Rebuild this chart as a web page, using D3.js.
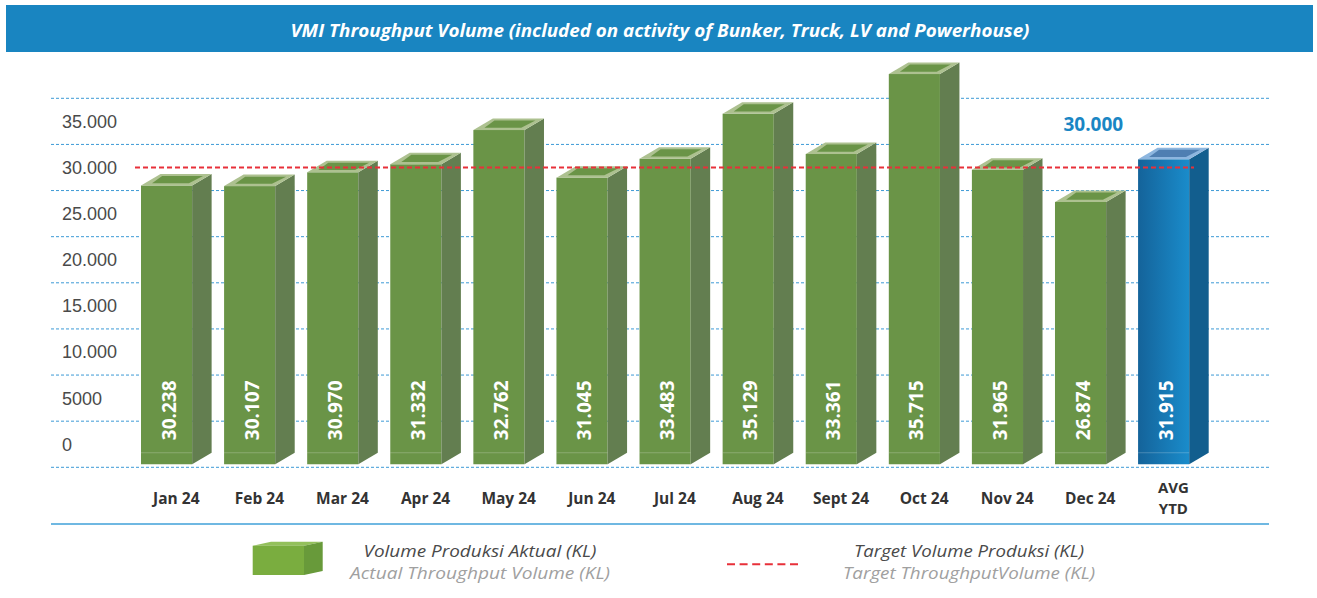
<!DOCTYPE html>
<html>
<head>
<meta charset="utf-8">
<script src="https://cdn.jsdelivr.net/npm/d3@7"></script>
<style>
  body { margin: 0; background: #fff; }
  svg { display: block; }
</style>
</head>
<body>
<svg id="chart" width="1317" height="598"></svg>
<script>
// data
const categories = ['Jan 24', 'Feb 24', 'Mar 24', 'Apr 24', 'May 24', 'Jun 24', 'Jul 24',
  'Aug 24', 'Sept 24', 'Oct 24', 'Nov 24', 'Dec 24', 'AVG\nYTD'];
// printed value on each bar (KL)
const reported = [30238, 30107, 30970, 31332, 32762, 31045, 33483, 35129, 33361, 35715, 31965, 26874, 31915];
// height the bar is actually drawn to, read against the axis
const plotted = [28050, 27980, 29480, 30350, 34060, 28900, 30950, 35830, 31460, 40130, 29760, 26260, 30890];
const target = 30000;
const tickValues = [0, 5000, 10000, 15000, 20000, 25000, 30000, 35000];
const tickLabels = ['0', '5000', '10.000', '15.000', '20.000', '25.000', '30.000', '35.000'];
const gridValues = [-2500, 2500, 7500, 12500, 17500, 22500, 27500, 32500, 37500];
const baseValue = -2170;

const title = 'VMI Throughput Volume (included on activity of Bunker, Truck, LV and Powerhouse)';
const legendBar = ['Volume Produksi Aktual (KL)', 'Actual Throughput Volume (KL)'];
const legendTarget = ['Target Volume Produksi (KL)', 'Target ThroughputVolume (KL)'];

const fmt = d3.formatLocale({decimal: ',', thousands: '.', grouping: [3], currency: ['', '']}).format(',');

const svg = d3.select('#chart');
const defs = svg.append('defs');
let grad = defs.append('linearGradient').attr('id', 'avgFront')
  .attr('x1', '0%').attr('x2', '100%').attr('y1', '0%').attr('y2', '0%');
grad.append('stop').attr('offset', '0%').attr('stop-color', '#14639a');
grad.append('stop').attr('offset', '100%').attr('stop-color', '#1a8ccb');

// title banner
svg.append('rect').attr('x', 6).attr('y', 5).attr('width', 1307).attr('height', 47).attr('fill', '#1985c1');
svg.append('text')
  .attr('x', 660).attr('y', 37)
  .attr('text-anchor', 'middle')
  .attr('fill', '#fff')
  .attr('textLength', 739).attr('lengthAdjust', 'spacingAndGlyphs')
  .style('font-family', '"Open Sans", sans-serif')
  .style('font-style', 'italic')
  .style('font-weight', 700)
  .style('font-size', '17px')
  .text(title);

const y = d3.scaleLinear().domain([-2500, 37500]).range([467.3, 98.3]);
const x = d3.scaleBand().domain(categories).range([141, 1208.7]).paddingInner(0.15).paddingOuter(0);
const dx = 19.5, dy = 11.5;
const frontW = x.bandwidth() - dx;

// dotted grid
svg.append('g').selectAll('line').data(gridValues).join('line')
  .attr('x1', 51).attr('x2', 1269)
  .attr('y1', d => y(d)).attr('y2', d => y(d))
  .attr('stroke', '#3d9ad6').attr('stroke-width', 1)
  .attr('stroke-dasharray', '3,2');

// y tick labels (sit between grid lines)
svg.append('g').selectAll('text').data(tickValues).join('text')
  .attr('x', 62).attr('y', d => y(d)).attr('dy', '0.36em')
  .attr('fill', '#4a4a4a')
  .style('font-family', '"Liberation Sans", Arial, sans-serif')
  .style('font-size', '18px')
  .text((d, i) => tickLabels[i]);

// bottom rule
svg.append('line').attr('x1', 51).attr('x2', 1269).attr('y1', 524).attr('y2', 524)
  .attr('stroke', '#3fa0d8').attr('stroke-width', 1.5);

const pts = a => a.map(p => p.join(',')).join(' ');

const bars = svg.append('g').selectAll('g').data(categories).join('g');
bars.each(function(cat, i) {
  let g = d3.select(this);
  let isAvg = i === categories.length - 1;
  let x0 = x(cat), x1 = x0 + frontW;
  let yt = y(plotted[i]), yb = y(baseValue);
  let p = (u, v) => [x0 + u * frontW + v * dx, yt - v * dy];

  g.append('rect').attr('x', x0).attr('y', yt).attr('width', frontW).attr('height', yb - yt)
    .attr('fill', isAvg ? 'url(#avgFront)' : '#6a9447');
  g.append('polygon')
    .attr('points', pts([[x1, yt], [x1 + dx, yt - dy], [x1 + dx, yb - dy], [x1, yb]]))
    .attr('fill', isAvg ? '#125e8e' : '#637e50');
  g.append('line').attr('x1', x0).attr('x2', x1).attr('y1', yb - dy).attr('y2', yb - dy)
    .attr('stroke', 'rgba(255,255,255,0.22)').attr('stroke-width', 1);
  g.append('polygon')
    .attr('points', pts([p(0, 0), p(0, 1), p(1, 1), p(1, 0)]))
    .attr('fill', isAvg ? '#8db6df' : '#adc190');
  g.append('polygon')
    .attr('points', pts([p(0.14, 0.2), p(0.1, 0.82), p(0.9, 0.82), p(0.86, 0.2)]))
    .attr('fill', isAvg ? '#4f7fb2' : '#6a9447');

  g.append('text')
    .attr('transform', 'translate(' + (x0 + frontW / 2) + ',' + (y(0) - 4) + ') rotate(-90)')
    .attr('dy', '0.48em')
    .attr('fill', '#fff')
    .style('font-family', '"Open Sans", sans-serif')
    .style('font-weight', 700)
    .style('font-size', '19px')
    .text(fmt(reported[i]));

  // category label, one text per line
  let lines = cat.split('\n');
  lines.forEach((t, k) => {
    g.append('text')
      .attr('x', x0 + x.bandwidth() / 2)
      .attr('y', (lines.length > 1 ? 493 : 504) + k * 21)
      .attr('text-anchor', 'middle')
      .attr('fill', '#333')
      .style('font-family', '"Open Sans", sans-serif')
      .style('font-weight', 700)
      .style('font-size', lines.length > 1 ? '15px' : '15.5px')
      .text(t);
  });
});

// target line
svg.append('line').attr('x1', 135).attr('x2', 1194).attr('y1', y(target)).attr('y2', y(target))
  .attr('stroke', '#e8303a').attr('stroke-width', 1.8).attr('stroke-dasharray', '5,3');
svg.append('text')
  .attr('x', x('Dec 24') + x.bandwidth() / 2 + 3).attr('y', y(target) - 36)
  .attr('text-anchor', 'middle')
  .attr('fill', '#1a86c4')
  .style('font-family', '"Open Sans", sans-serif')
  .style('font-weight', 700)
  .style('font-size', '19px')
  .text(fmt(target));

// legend
const leg = svg.append('g');
leg.append('polygon').attr('points', pts([[252.7, 545.7], [271, 541.7], [322.7, 541.7], [304, 545.7]])).attr('fill', '#93c05b');
leg.append('polygon').attr('points', pts([[304, 545.7], [322.7, 541.7], [322.7, 571], [304, 575]])).attr('fill', '#689a3a');
leg.append('rect').attr('x', 252.7).attr('y', 545.7).attr('width', 51.3).attr('height', 29.3).attr('fill', '#7aad3f');

leg.append('line').attr('x1', 727).attr('x2', 798).attr('y1', 564.3).attr('y2', 564.3)
  .attr('stroke', '#e8303a').attr('stroke-width', 2).attr('stroke-dasharray', '8,4.6');

const legText = (cx, lines, widths) => {
  lines.forEach((t, k) => {
    leg.append('text')
      .attr('x', cx).attr('y', 557 + k * 21.5)
      .attr('text-anchor', 'middle')
      .attr('textLength', widths[k]).attr('lengthAdjust', 'spacingAndGlyphs')
      .attr('fill', k === 0 ? '#4a4a4a' : '#a0a0a0')
      .style('font-family', '"Open Sans", sans-serif')
      .style('font-style', 'italic')
      .style('font-size', '16.5px')
      .text(t);
  });
};
legText(480, legendBar, [233, 260]);
legText(969, legendTarget, [230, 252]);
</script>
</body>
</html>
